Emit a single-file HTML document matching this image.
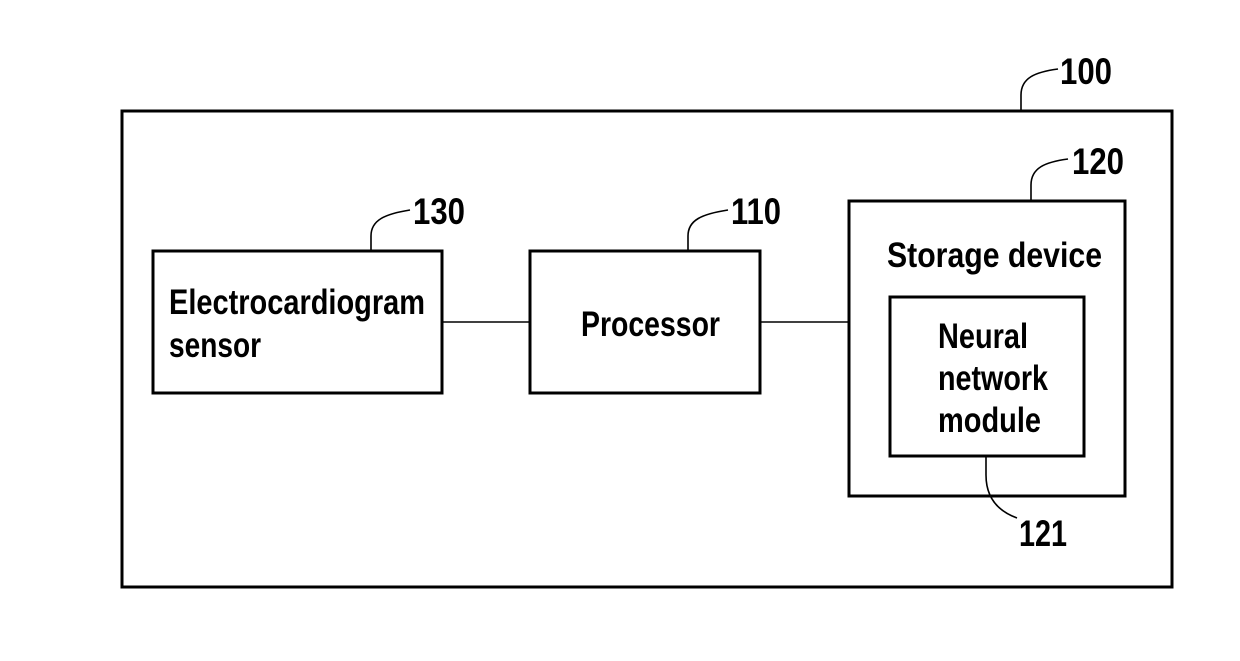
<!DOCTYPE html>
<html><head><style>html,body{margin:0;padding:0;background:#fff}</style></head><body>
<svg width="1240" height="656" viewBox="0 0 1240 656" xmlns="http://www.w3.org/2000/svg" font-family="Liberation Sans, sans-serif" font-weight="bold" fill="#000">
<g fill="none" stroke="#000" stroke-width="3">
<rect x="122" y="111" width="1050" height="476"/>
<rect x="153" y="251" width="289" height="142"/>
<rect x="530" y="251" width="230" height="142"/>
<rect x="849" y="201" width="276" height="295"/>
<rect x="890" y="297" width="194" height="159"/>
</g>
<g fill="none" stroke="#000" stroke-width="1.6">
<line x1="442" y1="322" x2="530" y2="322"/>
<line x1="760" y1="322" x2="849" y2="322"/>
<path d="M1021,110 L1021,95 C1021,78 1035,72 1058,69"/>
<path d="M1031,200 L1031,185 C1031,168 1045,162 1068,159"/>
<path d="M371,250 L371,236 C371,220 385,214 410,210"/>
<path d="M688,250 L688,236 C688,220 702,214 728,210"/>
<path d="M986,457 L986,475 C986,495 995,510 1017,518"/>
</g>
<g font-size="37">
<text x="1060" y="84" textLength="52" lengthAdjust="spacingAndGlyphs">100</text>
<text x="1072" y="174" textLength="52" lengthAdjust="spacingAndGlyphs">120</text>
<text x="413" y="224" textLength="52" lengthAdjust="spacingAndGlyphs">130</text>
<text x="731" y="224" textLength="50" lengthAdjust="spacingAndGlyphs">110</text>
<text x="1019" y="546" textLength="48" lengthAdjust="spacingAndGlyphs">121</text>
</g>
<g font-size="35">
<text x="169" y="314" textLength="256" lengthAdjust="spacingAndGlyphs">Electrocardiogram</text>
<text x="169" y="357" textLength="92" lengthAdjust="spacingAndGlyphs">sensor</text>
<text x="581" y="336" textLength="139" lengthAdjust="spacingAndGlyphs">Processor</text>
<text x="887" y="267" textLength="215" lengthAdjust="spacingAndGlyphs">Storage device</text>
<text x="938" y="348" textLength="90" lengthAdjust="spacingAndGlyphs">Neural</text>
<text x="938" y="390" textLength="110" lengthAdjust="spacingAndGlyphs">network</text>
<text x="938" y="432" textLength="103" lengthAdjust="spacingAndGlyphs">module</text>
</g>
</svg>
</body></html>
